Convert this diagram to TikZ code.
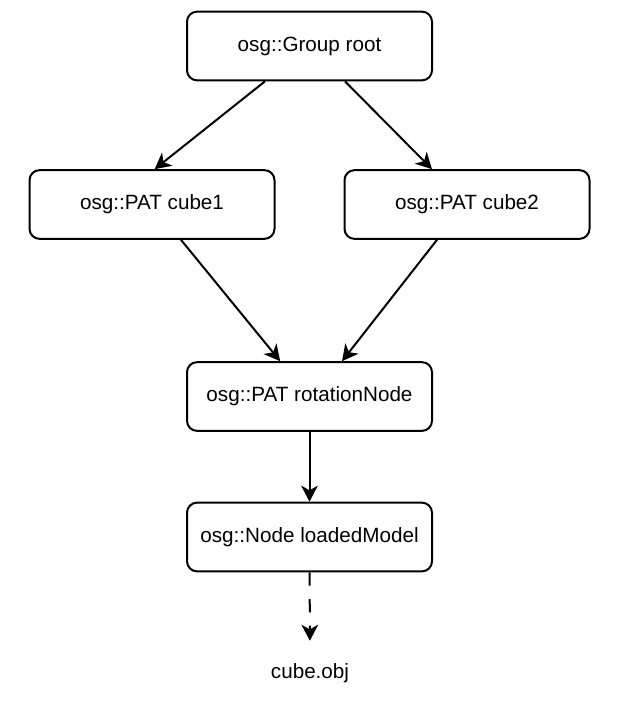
\documentclass[tikz,border=0pt]{standalone}
\usepackage{fontspec}
\setmainfont{Liberation Sans}
\usetikzlibrary{arrows.meta}

\begin{document}
\begin{tikzpicture}[x=0.75pt,y=-0.75pt,
	font=\fontsize{15.5}{18}\selectfont,
	box/.style={draw,line width=1.5pt,rounded corners=7.5pt,minimum width=183.75pt,minimum height=51.5pt,inner sep=0pt},
	link/.style={line width=1.5pt,-{Stealth[length=12pt,width=12.5pt,inset=3.5pt]}}]
	\useasboundingbox (0,0) rectangle (619,724);
	\node[box] (root) at (309.5,46) {osg::Group root};
	\node[box] (cube1) at (152,204.5) {osg::PAT cube1};
	\node[box] (cube2) at (467,204.5) {osg::PAT cube2};
	\node[box] (rotation) at (309.5,396.5) {osg::PAT rotationNode};
	\node[box] (model) at (309.5,537) {osg::Node loadedModel};
	\node[inner sep=0pt,minimum height=48pt] (obj) at (310,673) {cube.obj};
	\draw[link] ([xshift=-33.4pt]root.south) -- ([xshift=2pt]cube1.north);
	\draw[link] ([xshift=26.6pt]root.south) -- ([xshift=-26.25pt]cube2.north);
	\draw[link] ([xshift=21.75pt]cube1.south) -- ([xshift=-22pt]rotation.north);
	\draw[link] ([xshift=-22.5pt]cube2.south) -- ([xshift=24.4pt]rotation.north);
	\draw[link] (rotation) -- (model);
	\draw[link,dash pattern=on 10pt off 10pt] (model) -- (obj);
\end{tikzpicture}
\end{document}
